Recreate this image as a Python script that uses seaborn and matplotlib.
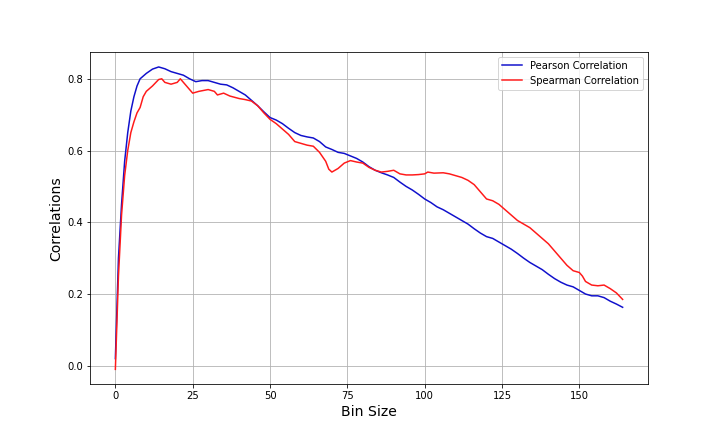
import matplotlib
matplotlib.use("Agg")
import matplotlib.pyplot as plt
import seaborn as sns
import pandas as pd

pearson_x = [0,1,2,3,4,5,6,7,8,10,12,14,16,18,20,22,24,26,28,30,32,34,36,38,40,42,44,46,48,50,52,54,56,58,60,62,64,66,68,70,72,74,76,78,80,82,84,86,88,90,92,94,96,98,100,102,104,106,108,110,112,114,116,118,120,122,124,126,128,130,132,134,136,138,140,142,144,146,148,150,152,154,156,158,160,162,164]
pearson_y = [0.02,0.3,0.45,0.57,0.65,0.71,0.75,0.78,0.80,0.815,0.827,0.833,0.828,0.82,0.815,0.81,0.80,0.792,0.795,0.795,0.79,0.785,0.783,0.775,0.765,0.755,0.74,0.725,0.708,0.692,0.685,0.675,0.662,0.65,0.642,0.638,0.635,0.625,0.61,0.603,0.595,0.592,0.585,0.578,0.568,0.555,0.545,0.538,0.532,0.525,0.512,0.5,0.49,0.478,0.465,0.455,0.443,0.435,0.425,0.415,0.405,0.395,0.382,0.37,0.36,0.355,0.345,0.335,0.325,0.313,0.3,0.288,0.278,0.268,0.255,0.243,0.233,0.225,0.22,0.21,0.2,0.195,0.195,0.19,0.18,0.172,0.163]

spearman_x = [0,1,2,3,4,5,6,7,8,9,10,12,14,15,16,18,20,21,22,24,25,27,30,32,33,35,37,40,42,44,46,48,50,52,54,56,58,60,62,64,66,68,69,70,72,74,76,78,80,82,84,86,88,90,92,94,96,98,100,101,103,106,108,110,112,114,116,118,120,122,124,126,128,130,132,134,136,138,140,142,144,146,148,150,151,152,154,156,158,160,162,164]
spearman_y = [-0.01,0.25,0.42,0.53,0.6,0.65,0.68,0.705,0.72,0.75,0.765,0.78,0.798,0.8,0.79,0.785,0.79,0.8,0.79,0.77,0.76,0.765,0.77,0.765,0.755,0.76,0.752,0.745,0.742,0.738,0.725,0.705,0.687,0.675,0.66,0.645,0.625,0.62,0.615,0.612,0.595,0.57,0.548,0.54,0.55,0.565,0.572,0.568,0.565,0.553,0.545,0.54,0.542,0.545,0.535,0.532,0.532,0.533,0.535,0.54,0.537,0.538,0.535,0.53,0.525,0.517,0.505,0.485,0.465,0.46,0.45,0.435,0.42,0.405,0.395,0.385,0.37,0.355,0.34,0.32,0.3,0.28,0.265,0.26,0.25,0.235,0.225,0.223,0.225,0.215,0.203,0.185]

fig, ax = plt.subplots(figsize=(10, 6), dpi=72)
sns.lineplot(x=pearson_x, y=pearson_y, ax=ax, color="#1010cc", label="Pearson Correlation")
sns.lineplot(x=spearman_x, y=spearman_y, ax=ax, color="#ff1a1a", label="Spearman Correlation")
ax.grid(True)
ax.set_xlabel("Bin Size", fontsize=14)
ax.set_ylabel("Correlations", fontsize=14)
ax.legend(loc="upper right")
fig.savefig("out.png", dpi=72)
